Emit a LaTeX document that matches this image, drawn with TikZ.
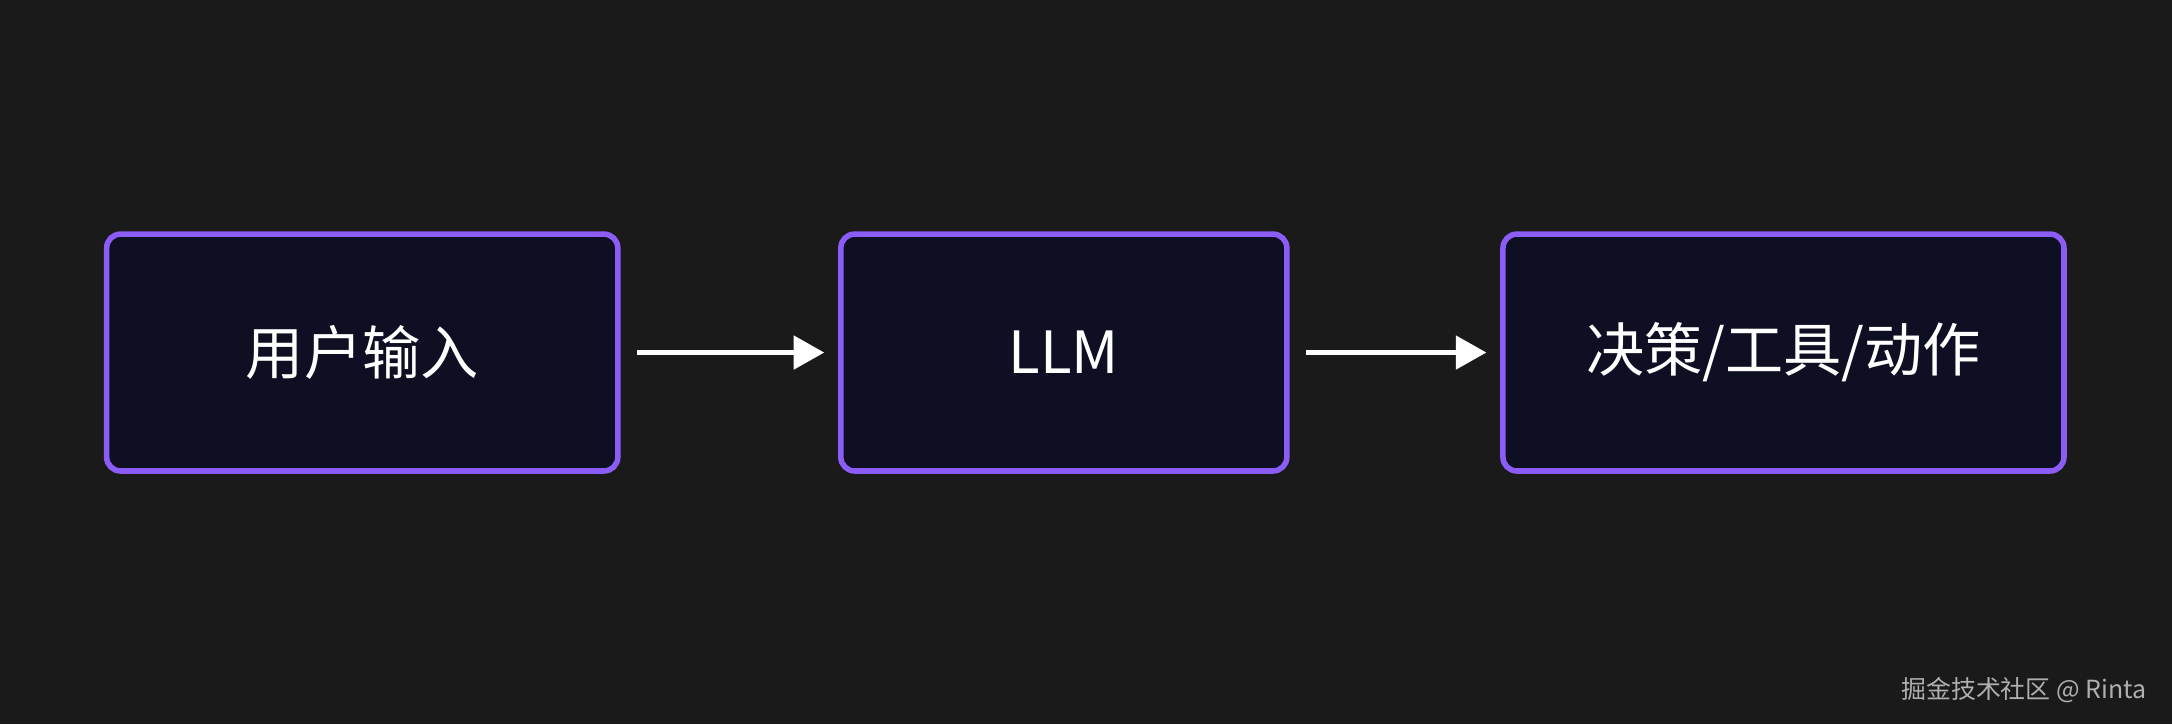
\documentclass[tikz,border=0pt]{standalone}
\usepackage{fontspec}
\setmainfont{Noto Sans CJK SC}
\usetikzlibrary{arrows.meta}
\definecolor{bg}{HTML}{1A1A1A}
\definecolor{boxfill}{HTML}{0F0F24}
\definecolor{boxline}{HTML}{8B5CF6}
\begin{document}
\begin{tikzpicture}[x=1pt,y=-1pt,
  box/.style={draw=boxline,fill=boxfill,line width=4pt,rounded corners=10pt,text=white,font=\fontsize{42}{48}\selectfont,inner sep=0pt},
  arr/.style={draw=white,line width=3pt,-{Triangle[length=22pt,width=24pt]}}]
\fill[bg] (0,0) rectangle (1568,523);
\useasboundingbox (0,0) rectangle (1568,523);
\node[box,minimum width=369pt,minimum height=171pt] (a) at (261.5,254.5) {用户输入};
\node[box,minimum width=322pt,minimum height=171pt] (b) at (768,254.5) {LLM};
\node[box,minimum width=405pt,minimum height=171pt] (c) at (1287.5,254.5) {决策/工具/动作};
\draw[arr] ([xshift=12pt]a.east) -- ([xshift=-10pt]b.west);
\draw[arr] ([xshift=12pt]b.east) -- ([xshift=-10pt]c.west);
\node[text=white!65!bg,font=\fontsize{18}{20}\selectfont,anchor=east] (w) at (1553,498) {掘金技术社区 @ Rinta};
\end{tikzpicture}
\end{document}
